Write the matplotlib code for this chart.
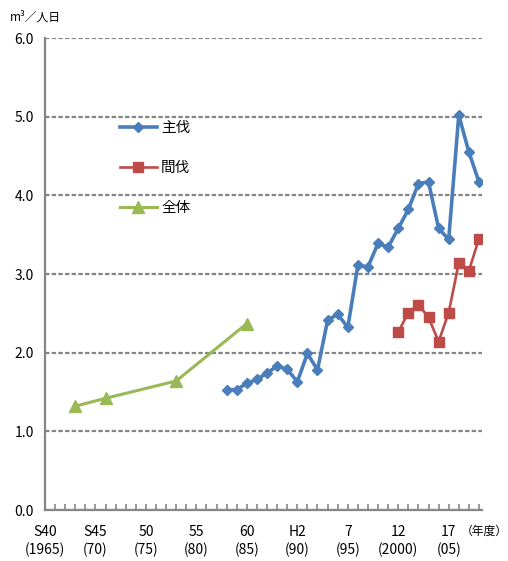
import matplotlib
matplotlib.use("Agg")
import matplotlib.pyplot as plt
from matplotlib.transforms import blended_transform_factory

plt.rcParams["font.family"] = ["Noto Sans CJK JP", "DejaVu Sans"]

# 主伐 (final felling) 1983-2008
main_years = list(range(1983, 2009))
main_vals = [1.53, 1.53, 1.61, 1.66, 1.74, 1.83, 1.79, 1.63, 1.99, 1.78,
             2.41, 2.49, 2.32, 3.11, 3.09, 3.39, 3.34, 3.58, 3.82, 4.15,
             4.17, 3.58, 3.44, 5.02, 4.55, 4.17]

# 間伐 (thinning) 2000-2008
thin_years = list(range(2000, 2009))
thin_vals = [2.26, 2.51, 2.61, 2.45, 2.14, 2.51, 3.14, 3.04, 3.45]

# 全体 (total)
all_years = [1968, 1971, 1978, 1985]
all_vals = [1.32, 1.42, 1.64, 2.37]

label_years = [1965, 1970, 1975, 1980, 1985, 1990, 1995, 2000, 2005]
label_texts = ["S40\n(1965)", "S45\n(70)", "50\n(75)", "55\n(80)", "60\n(85)",
               "H2\n(90)", "7\n(95)", "12\n(2000)", "17\n(05)"]
y_ticks = [0, 1, 2, 3, 4, 5, 6]

BLUE = "#4A7EBB"
RED = "#BE4B48"
GREEN = "#98B954"
GRAY = "#868686"

fig = plt.figure(figsize=(5.08, 5.61), dpi=100)
ax = fig.add_axes([45 / 508, 1 - 510 / 561, 437 / 508, 472 / 561])

ax.plot(main_years, main_vals, color=BLUE, lw=2.6, marker="D", ms=5.5,
        label="主伐", zorder=4)
ax.plot(thin_years, thin_vals, color=RED, lw=1.9, marker="s", ms=7,
        label="間伐", zorder=4)
ax.plot(all_years, all_vals, color=GREEN, lw=2.2, marker="^", ms=9,
        label="全体", zorder=4)

ax.set_xlim(1965, 2008.3)
ax.set_ylim(0, 6)
ax.set_yticks(y_ticks)
ax.set_yticklabels([f"{v:.1f}" for v in y_ticks])
ax.yaxis.grid(True, color=GRAY, lw=1.6, linestyle=(0, (2, 1)))
ax.set_axisbelow(True)

ax.set_xticks(label_years)
ax.set_xticklabels(label_texts, linespacing=1.25)
ax.set_xticks(range(1965, 2009), minor=True)
ax.tick_params(axis="x", which="both", direction="in", length=4, width=1.2,
               color=GRAY, labelsize=10, pad=11)
ax.tick_params(axis="y", length=0, labelsize=10, pad=8)

for side in ["top", "right"]:
    ax.spines[side].set_visible(False)
for side in ["left", "bottom"]:
    ax.spines[side].set_color(GRAY)
    ax.spines[side].set_linewidth(1.6)

trans = blended_transform_factory(ax.transData, ax.transAxes)
ax.text(2008.5, -0.045, "（年度）", transform=trans, ha="center", va="center",
        fontsize=8.5)
fig.text(10 / 508, 1 - 17 / 561, "m³／人日", ha="left", va="center", fontsize=8.5)

ax.legend(loc="upper left", bbox_to_anchor=(0.172, 0.824), frameon=False,
          borderpad=0, borderaxespad=0, handlelength=2.5, handletextpad=0.3,
          labelspacing=1.78, fontsize=10.5)

fig.savefig("out.png", dpi=100)
